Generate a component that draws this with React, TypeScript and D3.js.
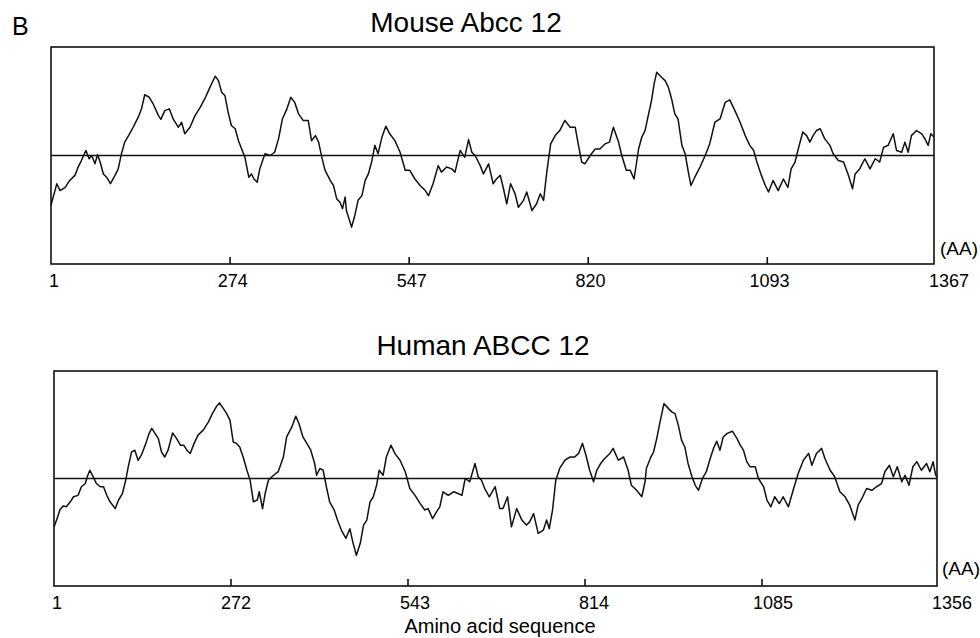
import { useEffect, useRef } from "react"
import * as d3 from "d3"

type Point = [number, number]

const panelLetter = "B"
const mouseTitle = "Mouse Abcc 12"
const humanTitle = "Human ABCC 12"
const xAxisTitle = "Amino acid sequence"
const unitLabel = "(AA)"

const mouseTicks = [1, 274, 547, 820, 1093, 1367]
const humanTicks = [1, 272, 543, 814, 1085, 1356]

// [residue position, hydropathy value]
const mouseProfile: Point[] = [
  [1, -1.38], [5, -1.11], [10, -0.78], [15, -0.97], [23, -0.88], [30, -0.69], [38, -0.55], [43, -0.32],
  [48, -0.14], [55, 0.14], [60, -0.09], [64, 0], [69, -0.23], [73, 0.02], [77, -0.18], [82, -0.51],
  [87, -0.6], [93, -0.78], [100, -0.55], [105, -0.37], [110, 0.05], [115, 0.37], [121, 0.55], [128, 0.78],
  [136, 1.06], [141, 1.29], [146, 1.68], [153, 1.61], [159, 1.43], [167, 1.11], [171, 1.0], [177, 1.24],
  [184, 1.29], [190, 1.01], [198, 0.78], [203, 0.92], [208, 0.6], [216, 0.78], [224, 1.11], [232, 1.34],
  [239, 1.57], [247, 1.89], [255, 2.19], [260, 2.07], [265, 1.75], [270, 1.66], [275, 1.2], [280, 0.83],
  [286, 0.74], [291, 0.41], [296, 0.18], [301, -0.05], [307, -0.6], [311, -0.51], [315, -0.65], [320, -0.74],
  [324, -0.37], [332, 0.05], [340, 0], [347, 0.09], [353, 0.46], [359, 1.01], [366, 1.29], [372, 1.61],
  [378, 1.47], [384, 1.15], [391, 0.97], [399, 0.97], [404, 0.41], [410, 0.55], [415, 0.37], [420, -0.05],
  [425, -0.41], [433, -0.69], [438, -0.83], [443, -1.2], [448, -1.29], [452, -1.47], [456, -1.15],
  [458, -1.52], [466, -1.98], [471, -1.66], [476, -1.24], [482, -1.11], [487, -0.69], [492, -0.51], [497, -0.18],
  [502, 0.28], [507, 0.05], [513, 0.51], [519, 0.81], [525, 0.6], [533, 0.41], [541, 0.09], [549, -0.41],
  [556, -0.41], [564, -0.65], [572, -0.83], [580, -0.97], [585, -1.11], [592, -0.78], [600, -0.28], [605, -0.46],
  [613, -0.32], [621, -0.37], [626, -0.46], [634, 0.14], [641, -0.05], [647, 0.44], [652, 0.09], [657, 0],
  [665, -0.28], [670, -0.51], [678, -0.23], [685, -0.78], [690, -0.65], [696, -0.55], [701, -0.92], [706, -1.34],
  [712, -0.78], [719, -1.06], [724, -1.43], [732, -1.24], [737, -1.01], [745, -1.52], [752, -1.34], [758, -1.06],
  [763, -1.24], [768, -0.46], [774, 0.32], [781, 0.55], [788, 0.69], [796, 0.97], [804, 0.78], [812, 0.78],
  [817, 0.28], [822, -0.18], [827, -0.23], [835, 0], [843, 0.18], [850, 0.18], [858, 0.32], [865, 0.37],
  [871, 0.78], [879, 0.37], [884, 0], [891, -0.41], [897, -0.41], [903, -0.65], [910, 0.18],
  [915, 0.51], [920, 0.69], [925, 1.11], [930, 1.52], [934, 1.98], [938, 2.3], [945, 2.17], [951, 2.07],
  [956, 1.89], [961, 1.57], [966, 1.15], [971, 1.01], [977, 0.28], [982, 0.05], [987, -0.46], [991, -0.83],
  [997, -0.6], [1005, -0.32], [1013, 0], [1020, 0.32], [1028, 0.92], [1036, 1.01], [1044, 1.47], [1051, 1.54],
  [1059, 1.24], [1067, 0.92], [1075, 0.55], [1082, 0.28], [1088, 0.14], [1093, -0.18], [1100, -0.55], [1106, -0.83],
  [1111, -1.01], [1118, -0.69], [1126, -0.97], [1134, -0.65], [1141, -0.88], [1146, -0.37], [1152, -0.18], [1157, 0.18],
  [1164, 0.65], [1170, 0.55], [1175, 0.37], [1180, 0.55], [1185, 0.69], [1191, 0.74], [1198, 0.46], [1206, 0.28],
  [1211, 0.05], [1219, -0.14], [1227, -0.18], [1234, -0.51], [1241, -0.92], [1245, -0.51], [1252, -0.37], [1260, -0.09],
  [1268, -0.37], [1276, -0.09], [1283, -0.18], [1289, 0.23], [1296, 0.28], [1304, 0.6], [1309, 0.14], [1317, 0.09],
  [1322, 0.37], [1327, 0.09], [1332, 0.55], [1340, 0.69], [1348, 0.6], [1353, 0.46], [1358, 0.28], [1362, 0.6],
  [1367, 0.51],
]

const humanProfile: Point[] = [
  [1, -1.35], [5, -1.16], [10, -0.88], [15, -0.77], [20, -0.79], [26, -0.65], [31, -0.51], [38, -0.47],
  [43, -0.23], [49, -0.14], [52, 0.05], [56, 0.23], [61, 0.05], [66, -0.14], [72, -0.23], [77, -0.23],
  [82, -0.47], [87, -0.65], [95, -0.84], [100, -0.6], [106, -0.42], [111, -0.05], [115, 0.33], [120, 0.74],
  [125, 0.79], [130, 0.51], [135, 0.65], [142, 0.98], [147, 1.26], [151, 1.4], [156, 1.26], [161, 1.12],
  [166, 0.74], [171, 0.6], [176, 0.79], [183, 1.27], [189, 1.12], [195, 0.93], [200, 0.93], [205, 0.79],
  [210, 0.7], [216, 0.98], [222, 1.21], [230, 1.35], [238, 1.58], [244, 1.81], [250, 2.0], [255, 2.11],
  [261, 1.95], [266, 1.81], [271, 1.63], [276, 1.02], [281, 0.98], [286, 0.88], [292, 0.56], [297, 0.23],
  [302, -0.05], [307, -0.65], [313, -0.6], [316, -0.37], [321, -0.84], [325, -0.42], [330, -0.05], [338, 0.09],
  [345, 0.19], [353, 0.6], [358, 1.16], [366, 1.44], [372, 1.74], [377, 1.53], [383, 1.16], [389, 0.98],
  [395, 0.79], [401, 0.42], [404, 0.09], [409, 0.28], [414, 0.23], [419, -0.23], [424, -0.65], [431, -0.88],
  [436, -1.16], [442, -1.44], [449, -1.67], [455, -1.4],
  [460, -1.81], [465, -2.14], [471, -1.81], [476, -1.3], [481, -1.16], [486, -0.65], [491, -0.51], [496, -0.19],
  [500, 0.23], [506, 0.09], [511, 0.6], [518, 0.93], [524, 0.7], [532, 0.51], [540, 0.19], [547, -0.28],
  [555, -0.47], [563, -0.7], [570, -0.88], [575, -0.84], [582, -1.12], [588, -0.93], [593, -0.79], [598, -0.37],
  [606, -0.47], [614, -0.37], [621, -0.42], [627, -0.47], [632, 0], [639, -0.09], [647, 0.42], [652, 0.05],
  [657, -0.05], [662, -0.28], [669, -0.51], [678, -0.23], [685, -0.84], [690, -0.84], [697, -0.51], [703, -1.35],
  [711, -0.84], [719, -1.16], [726, -1.3], [731, -1.21], [737, -0.98], [744, -1.53], [752, -1.44], [757, -1.16],
  [761, -1.4], [766, -0.88], [771, -0.05], [777, 0.28], [785, 0.51], [793, 0.6], [800, 0.6], [806, 0.7],
  [812, 0.98], [818, 0.6], [823, 0.23], [829, -0.09], [834, 0.23], [840, 0.42], [846, 0.56], [854, 0.7],
  [859, 0.84], [867, 0.51], [875, 0.6], [882, 0.23], [887, -0.19], [895, -0.33], [903, -0.51], [908, -0.09],
  [910, 0.28], [916, 0.56], [921, 0.74], [926, 1.12], [931, 1.58], [937, 2.09], [944, 1.95], [949, 1.86],
  [954, 1.81], [959, 1.49], [964, 1.07], [969, 0.88], [974, 0.42], [980, 0.05], [985, -0.19], [990, -0.33],
  [996, 0], [1002, 0.19], [1008, 0.56], [1013, 0.84], [1018, 1.04], [1023, 0.79], [1028, 1.16], [1034, 1.26],
  [1042, 1.32], [1049, 1.12], [1054, 0.93], [1059, 0.79], [1064, 0.47], [1069, 0.33], [1077, 0.33], [1082, 0],
  [1090, -0.23], [1095, -0.6], [1101, -0.79], [1107, -0.51], [1114, -0.7], [1120, -0.51], [1128, -0.79], [1136, -0.28],
  [1143, 0.14], [1151, 0.51], [1159, 0.7], [1164, 0.37], [1171, 0.7], [1179, 0.84], [1184, 0.56], [1192, 0.23],
  [1199, 0.05], [1207, -0.37], [1215, -0.51], [1222, -0.74], [1230, -1.16], [1235, -0.74], [1242, -0.51], [1248, -0.28],
  [1256, -0.33], [1263, -0.23], [1271, -0.14], [1276, 0.19], [1283, 0.37], [1289, 0.05], [1295, 0.33], [1302, -0.09],
  [1307, 0.09], [1313, -0.19], [1319, 0.33], [1325, 0.47], [1332, 0.23], [1340, 0.42], [1345, 0.19], [1350, 0.47],
  [1354, 0.09], [1356, 0.05],
]

const FONT = "'Liberation Sans', Arial, Helvetica, sans-serif"

const App = () => {
  const svgRef = useRef<SVGSVGElement>(null)

  useEffect(() => {
    const svg = d3.select(svgRef.current)
    svg.selectAll("*").remove()

    svg.append("rect").attr("width", 980).attr("height", 638).attr("fill", "#fff")

    svg
      .append("text")
      .attr("x", 12)
      .attr("y", 35)
      .style("font-family", FONT)
      .style("font-size", "25px")
      .text(panelLetter)

    const panels = [
      {
        title: mouseTitle, data: mouseProfile, ticks: mouseTicks,
        left: 51, right: 934, top: 47, bottom: 264, tickRight: 947,
        titleX: 466, titleY: 32, labelRange: [54, 949], labelY: 287, unitX: 940, unitY: 255,
      },
      {
        title: humanTitle, data: humanProfile, ticks: humanTicks,
        left: 54, right: 937, top: 371, bottom: 586, tickRight: 939,
        titleX: 483, titleY: 355, labelRange: [57, 952], labelY: 609, unitX: 942, unitY: 575,
      },
    ]

    panels.forEach((p) => {
      const n = p.ticks[p.ticks.length - 1]
      const x = d3.scaleLinear().domain([1, n]).range([p.left, p.right])
      const xTick = d3.scaleLinear().domain([1, n]).range([p.left, p.tickRight])
      const xLabel = d3.scaleLinear().domain([1, n]).range(p.labelRange)
      const y = d3.scaleLinear().domain([-3, 3]).range([p.bottom, p.top])

      const g = svg.append("g")

      // title
      g.append("text")
        .attr("x", p.titleX)
        .attr("y", p.titleY)
        .attr("text-anchor", "middle")
        .style("font-family", FONT)
        .style("font-size", "28px")
        .text(p.title)

      // zero line
      g.append("line")
        .attr("x1", p.left)
        .attr("x2", p.right)
        .attr("y1", y(0))
        .attr("y2", y(0))
        .attr("stroke", "#111")
        .attr("stroke-width", 1.3)

      // profile
      const line = d3
        .line<Point>()
        .x((d) => x(d[0]))
        .y((d) => y(d[1]))

      g.append("path")
        .datum(p.data)
        .attr("d", line)
        .attr("fill", "none")
        .attr("stroke", "#111")
        .attr("stroke-width", 1.5)
        .attr("stroke-linejoin", "round")

      // frame
      g.append("rect")
        .attr("x", p.left)
        .attr("y", p.top)
        .attr("width", p.right - p.left)
        .attr("height", p.bottom - p.top)
        .attr("fill", "none")
        .attr("stroke", "#111")
        .attr("stroke-width", 1.6)

      // inner ticks on the bottom edge
      g.selectAll(".tick")
        .data(p.ticks.slice(1, -1))
        .enter()
        .append("line")
        .attr("x1", (d) => xTick(d))
        .attr("x2", (d) => xTick(d))
        .attr("y1", p.bottom)
        .attr("y2", p.bottom - 7)
        .attr("stroke", "#111")
        .attr("stroke-width", 1.6)

      g.selectAll(".tick-label")
        .data(p.ticks)
        .enter()
        .append("text")
        .attr("x", (d) => xLabel(d))
        .attr("y", p.labelY)
        .attr("text-anchor", "middle")
        .style("font-family", FONT)
        .style("font-size", "18px")
        .text((d) => d)

      g.append("text")
        .attr("x", p.unitX)
        .attr("y", p.unitY)
        .style("font-family", FONT)
        .style("font-size", "19px")
        .text(unitLabel)
    })

    svg
      .append("text")
      .attr("x", 500)
      .attr("y", 633)
      .attr("text-anchor", "middle")
      .style("font-family", FONT)
      .style("font-size", "20px")
      .text(xAxisTitle)
  }, [])

  return (
    <svg
      ref={svgRef}
      width={980}
      height={638}
      style={{ position: "absolute", left: 0, top: 0, display: "block" }}
    ></svg>
  )
}

export default App
